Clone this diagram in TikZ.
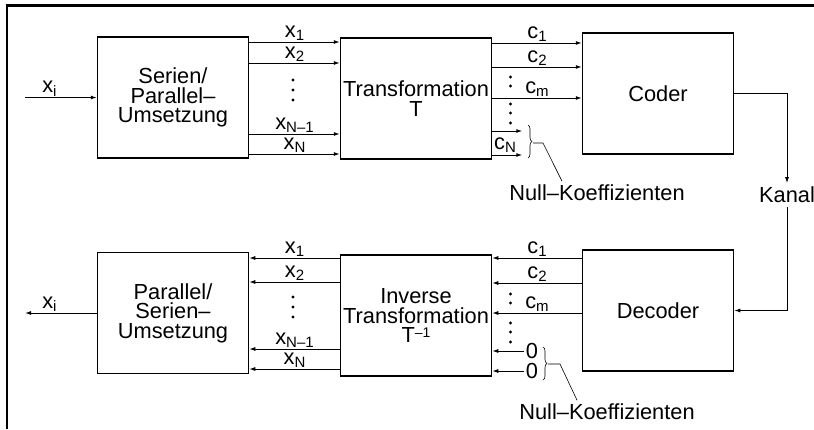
\documentclass[tikz,border=0pt]{standalone}
\usepackage{fontspec}
\setmainfont{Liberation Sans}
\usepackage{tikz}
\usetikzlibrary{positioning, calc, arrows.meta, decorations.pathreplacing}
\newcommand{\lowidx}[1]{\raisebox{-3.5pt}{\fontsize{15}{15}\selectfont #1}}
\newcommand{\highidx}[1]{\raisebox{5.5pt}{\fontsize{14}{14}\selectfont #1}}

\begin{document}
\begin{tikzpicture}[x=1pt, y=-1pt, >={Latex[length=6pt, width=4pt]}, line width=1pt,
    font=\fontsize{21.8}{19.5}\selectfont,
    block/.style={draw, line width=1.5pt, minimum width=151pt, minimum height=121pt, align=center, inner sep=0pt},
    lbl/.style={inner sep=1pt},
    brc/.style={decorate, decoration={brace, amplitude=4pt}, line width=0.6pt}]
    \useasboundingbox (0,0) rectangle (814,429);
    % Frame
    \draw[line width=3pt] (5.5,5) -- (814,5);
    \draw[line width=2pt] (7,4) -- (7,429);

    % Top row
    \node[block] (sp) at (173,97.5) {Serien/\\Parallel–\\Umsetzung};
    \node[block] (trans) at (416,98.5) {Transformation\\T};
    \node[block] (coder) at (658,93.5) {Coder};

    % Bottom row
    \node[block] (ps) at (173,313) {Parallel/\\Serien–\\Umsetzung};
    \node[block] (inv) at (416,315.5) {Inverse\\Transformation\\T\highidx{–1}};
    \node[block] (decoder) at (658,310.5) {Decoder};

    % Input and output
    \coordinate (xin) at (25,97.5);
    \coordinate (xout) at (25,313);
    \draw[->] (xin) -- node[lbl, above, pos=0.34] {x\lowidx{i}} (sp.west);
    \draw[->] (ps.west) -- node[lbl, above, pos=0.66] {x\lowidx{i}} (xout);

    % Parallel lines x
    \foreach \y/\t in {42/1, 63/2, 134/{N–1}, 154/N}
      \draw[->] (sp.east |- 0,\y) -- node[lbl, above] {x\lowidx{\t}} (trans.west |- 0,\y);
    \foreach \y/\t in {258/1, 282/2, 349/{N–1}, 369/N}
      \draw[->] (inv.west |- 0,\y) -- node[lbl, above] {x\lowidx{\t}} (ps.east |- 0,\y);
    \foreach \y in {80,90,100,297,307,317}
      \fill (293,\y) circle (1.6pt);

    % Coefficients c
    \foreach \y/\t in {43/1, 67/2, 98/m}
      \draw[->] (trans.east |- 0,\y) -- node[lbl, above] {c\lowidx{\t}} (coder.west |- 0,\y);
    \foreach \y/\t in {258/1, 283/2, 313/m}
      \draw[->] (decoder.west |- 0,\y) -- node[lbl, above] {c\lowidx{\t}} (inv.east |- 0,\y);
    \foreach \y in {77,86,104,113,123,294,303,323,332,342}
      \fill (510.5,\y) circle (1.6pt);

    % Null coefficients, top
    \foreach \y in {131,155}
      \draw[->] (trans.east |- 0,\y) -- ++(30,0);
    \node[lbl] (cN) at (505,145) {c\lowidx{N}};
    \draw[brc] (528,125) -- (528,158);
    \node (nullA) at (597,193) {Null–Koeffizienten};
    \draw[line width=0.6pt] (533,143) -- (543,143) -- ([xshift=-35pt]nullA.north);

    % Null coefficients, bottom
    \node[lbl] (zeroA) at (532,351) {0};
    \node[lbl] (zeroB) at (532,371) {0};
    \draw[->] (zeroA.west) -- (inv.east |- zeroA.west);
    \draw[->] (zeroB.west) -- (inv.east |- zeroB.west);
    \draw[brc] (543,347) -- (543,380);
    \node (nullB) at (607,412) {Null–Koeffizienten};
    \draw[line width=0.6pt] (548,364) -- (560,364) -- ([xshift=-30pt]nullB.north);

    % Channel
    \node (kanal) at (787,195) {Kanal};
    \draw[->] (coder.east) -| (kanal.north);
    \draw[->] (kanal.south) |- (decoder.east);
\end{tikzpicture}
\end{document}
